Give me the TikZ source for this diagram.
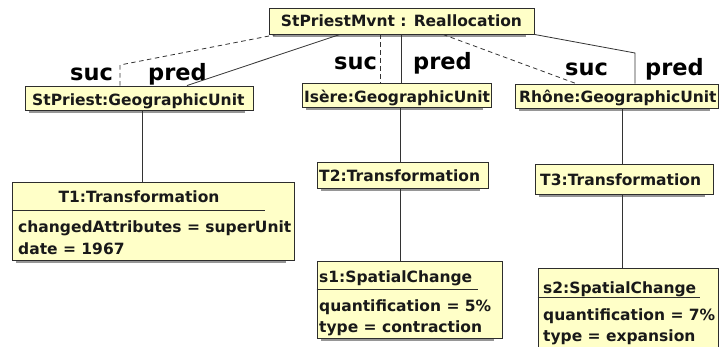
\documentclass[tikz,border=0pt]{standalone}
\usepackage{fontspec}
\setmainfont{DejaVu Sans}
\usetikzlibrary{calc,fit}
\definecolor{boxfill}{RGB}{255,255,200}
\definecolor{boxline}{RGB}{45,45,45}
\definecolor{shadowc}{RGB}{150,150,150}
\newcommand\umlbox[5]{%
  \fill[shadowc] ({#2+4},{#5}) rectangle ({#4-8},{#5+3});
  \node[box, fit={(#2,#3) (#4,#5)}] (#1) {};}
\begin{document}
\begin{tikzpicture}[x=1pt,y=-1pt,
  box/.style={draw=boxline, fill=boxfill, line width=0.9pt, inner sep=0pt},
  txt/.style={font=\fontsize{15.5}{18}\bfseries\selectfont, inner sep=0pt, anchor=base west, text=black!90},
  lbl/.style={font=\fontsize{22.5}{24}\bfseries\selectfont, inner sep=0pt, anchor=base west},
  link/.style={draw=black!80, line width=0.8pt},
  dlink/.style={link, dash pattern=on 4.5pt off 3.5pt},
  sep/.style={draw=boxline, line width=0.8pt}]
\clip (0,0) rectangle (719,347);
\fill[white] (0,0) rectangle (719,347);

% boxes
\umlbox{top}{269}{8}{534}{34}
\umlbox{stp}{25}{86}{253}{110}
\umlbox{ise}{302}{83}{491}{107}
\umlbox{rho}{515}{84}{718}{108}
\umlbox{tA}{12}{182}{294}{260}
\umlbox{tB}{317}{162}{488}{188}
\umlbox{tC}{535}{164}{713}{194}
\umlbox{sA}{317}{261}{502}{338}
\umlbox{sB}{538}{268}{718}{360}

% texts
\node[txt, anchor=base] (topt) at (401.5,27) {StPriestMvnt : Reallocation};
\node[txt] (stpt) at (32,106) {StPriest:GeographicUnit};
\node[txt] (iset) at (304,103) {Isère:GeographicUnit};
\node[txt] (rhot) at (519,103) {Rhône:GeographicUnit};
\node[txt, anchor=base] (tAt) at (139,203) {T1:Transformation};
\node[txt] (tAa) at (18,233) {changedAttributes = superUnit};
\node[txt] (tAb) at (18,254) {date = 1967};
\node[txt] (tBt) at (319,182) {T2:Transformation};
\node[txt] (tCt) at (540,186) {T3:Transformation};
\node[txt] (sAt) at (319,282) {s1:SpatialChange};
\node[txt] (sAa) at (319,311) {quantification = 5\%};
\node[txt] (sAb) at (319,332) {type = contraction};
\node[txt] (sBt) at (543,293) {s2:SpatialChange};
\node[txt] (sBa) at (543,320) {quantification = 7\%};
\node[txt] (sBb) at (543,341) {type = expansion};

% separators
\draw[sep] (tA.west |- 0,210) -- (265,210);
\draw[sep] (sA.west |- 0,289) -- (478,289);
\draw[sep] (sB.west |- 0,297) -- (700,297);

% labels
\node[lbl] (l1s) at (70,81) {suc};
\node[lbl] (l1p) at (148,81) {pred};
\node[lbl] (l2s) at (334,70) {suc};
\node[lbl] (l2p) at (413,70) {pred};
\node[lbl] (l3s) at (565,76) {suc};
\node[lbl] (l3p) at (645,76) {pred};

% connectors
\coordinate (c1) at (120,65);
\draw[dlink] (top.south -| 277,0) -- (c1) -- (c1 |- stp.north);
\draw[link] (top.south -| 340,0) -- (stp.north -| 187,0);
\draw[dlink] (top.south -| 380,0) -- (ise.north -| 380,0);
\draw[link] (top.south -| 401,0) -- (ise.north -| 401,0);
\draw[dlink] (top.south -| 443,0) -- (rho.north -| 576,0);
\coordinate (c2) at (635,53);
\draw[link] (top.south east) -- (c2) -- (c2 |- rho.north);
\draw[link] (stp.south -| 142,0) -- (tA.north -| 142,0);
\draw[link] (ise.south -| 400,0) -- (tB.north -| 400,0);
\draw[link] (tB.south -| 400,0) -- (sA.north -| 400,0);
\draw[link] (rho.south -| 622,0) -- (tC.north -| 622,0);
\draw[link] (tC.south -| 622,0) -- (sB.north -| 622,0);
\end{tikzpicture}
\end{document}
